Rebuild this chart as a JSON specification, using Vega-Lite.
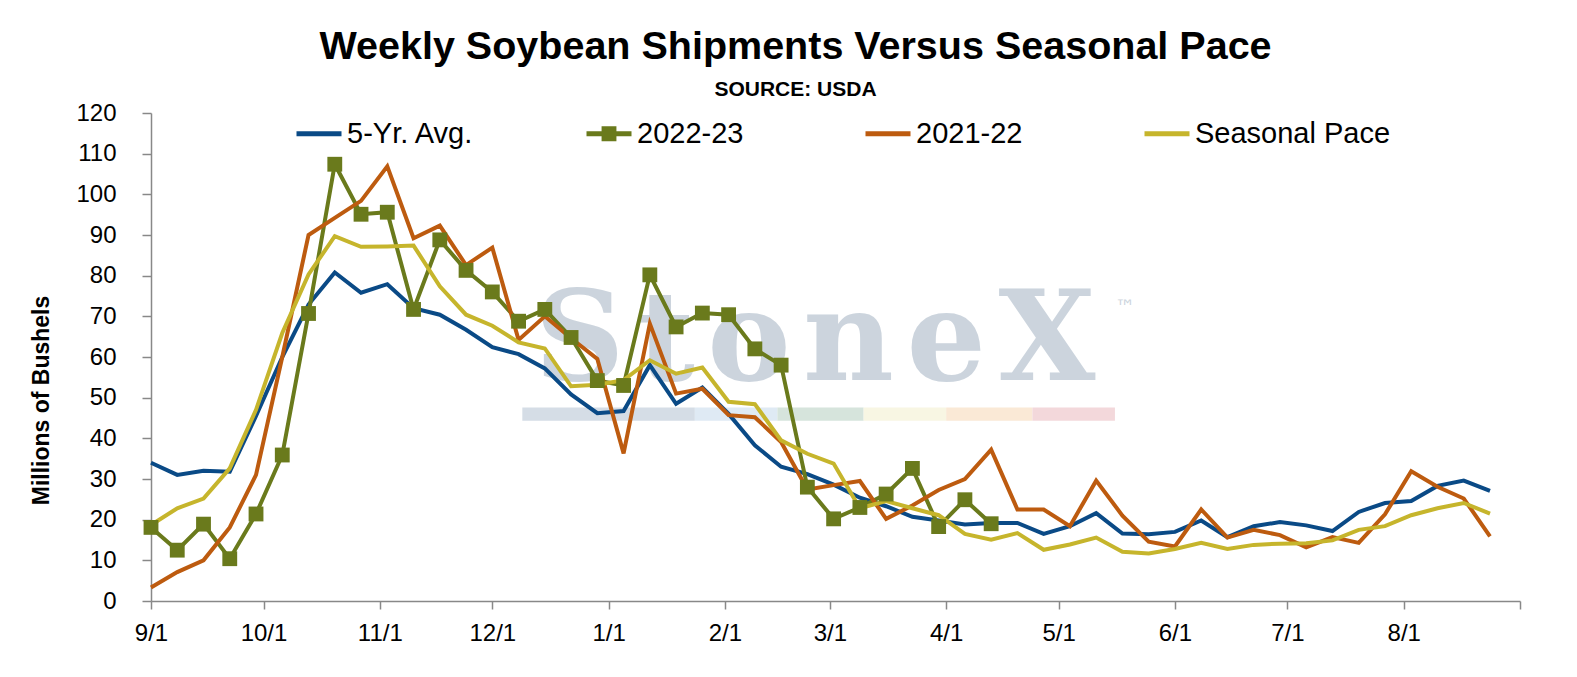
{
  "$schema": "https://vega.github.io/schema/vega-lite/v6.json",
  "width": 1369,
  "height": 488,
  "autosize": {"type": "none"},
  "padding": {"left": 151, "top": 113, "right": 57, "bottom": 76},
  "background": "white",
  "config": {"view": {"stroke": null}, "font": "Liberation Sans"},
  "title": {
    "text": "Weekly Soybean Shipments Versus Seasonal Pace",
    "subtitle": "SOURCE: USDA",
    "anchor": "middle",
    "dx": -40,
    "offset": 0,
    "font": "Liberation Sans",
    "fontSize": 39.5,
    "fontWeight": "bold",
    "color": "#000000",
    "subtitleFont": "Liberation Sans",
    "subtitleFontSize": 21,
    "subtitleFontWeight": "bold",
    "subtitleColor": "#000000",
    "subtitlePadding": 12
  },
  "data": {
    "values": [
      {"week": "2022-09-01", "avg": 34, "y2223": 18.1, "y2122": 3.3, "pace": 18.7},
      {"week": "2022-09-08", "avg": 31, "y2223": 12.5, "y2122": 7.1, "pace": 22.8},
      {"week": "2022-09-15", "avg": 32, "y2223": 18.9, "y2122": 10, "pace": 25.2},
      {"week": "2022-09-22", "avg": 31.8, "y2223": 10.4, "y2122": 18.1, "pace": 32.6},
      {"week": "2022-09-29", "avg": 45.5, "y2223": 21.4, "y2122": 31, "pace": 47},
      {"week": "2022-10-06", "avg": 60, "y2223": 35.9, "y2122": 60, "pace": 65.9},
      {"week": "2022-10-13", "avg": 72.9, "y2223": 70.7, "y2122": 90, "pace": 80.3},
      {"week": "2022-10-20", "avg": 80.8, "y2223": 107.4, "y2122": 94.2, "pace": 89.7},
      {"week": "2022-10-27", "avg": 75.8, "y2223": 95.1, "y2122": 98.4, "pace": 87.1},
      {"week": "2022-11-03", "avg": 77.9, "y2223": 95.6, "y2122": 106.9, "pace": 87.2},
      {"week": "2022-11-10", "avg": 72, "y2223": 71.7, "y2122": 89.2, "pace": 87.4},
      {"week": "2022-11-17", "avg": 70.4, "y2223": 88.8, "y2122": 92.3, "pace": 77.4},
      {"week": "2022-11-24", "avg": 66.7, "y2223": 81.3, "y2122": 82.6, "pace": 70.4},
      {"week": "2022-12-01", "avg": 62.4, "y2223": 76, "y2122": 86.9, "pace": 67.7},
      {"week": "2022-12-08", "avg": 60.7, "y2223": 68.8, "y2122": 64.2, "pace": 63.6},
      {"week": "2022-12-15", "avg": 57.2, "y2223": 71.7, "y2122": 70, "pace": 62.1},
      {"week": "2022-12-22", "avg": 50.8, "y2223": 64.8, "y2122": 64.6, "pace": 52.8},
      {"week": "2022-12-29", "avg": 46.2, "y2223": 54.2, "y2122": 59.5, "pace": 53.2},
      {"week": "2023-01-05", "avg": 46.7, "y2223": 53, "y2122": 36.3, "pace": 54.3},
      {"week": "2023-01-12", "avg": 58, "y2223": 80.2, "y2122": 68.2, "pace": 59.2},
      {"week": "2023-01-19", "avg": 48.5, "y2223": 67.4, "y2122": 51, "pace": 55.9},
      {"week": "2023-01-26", "avg": 52.5, "y2223": 70.8, "y2122": 52.2, "pace": 57.4},
      {"week": "2023-02-02", "avg": 46, "y2223": 70.4, "y2122": 45.7, "pace": 49},
      {"week": "2023-02-09", "avg": 38.3, "y2223": 62, "y2122": 45.2, "pace": 48.4},
      {"week": "2023-02-16", "avg": 33, "y2223": 58, "y2122": 39.1, "pace": 39.5},
      {"week": "2023-02-23", "avg": 31.2, "y2223": 28, "y2122": 27.4, "pace": 36.2},
      {"week": "2023-03-02", "avg": 28.6, "y2223": 20.2, "y2122": 28.5, "pace": 33.8},
      {"week": "2023-03-09", "avg": 25.4, "y2223": 23, "y2122": 29.5, "pace": 22.8},
      {"week": "2023-03-16", "avg": 23.3, "y2223": 26.3, "y2122": 20.2, "pace": 24.6},
      {"week": "2023-03-23", "avg": 20.7, "y2223": 32.6, "y2122": 23.5, "pace": 22.8},
      {"week": "2023-03-30", "avg": 19.8, "y2223": 18.3, "y2122": 27.3, "pace": 21.1},
      {"week": "2023-04-06", "avg": 18.8, "y2223": 24.9, "y2122": 30, "pace": 16.5},
      {"week": "2023-04-13", "avg": 19.2, "y2223": 19, "y2122": 37.2, "pace": 15.1},
      {"week": "2023-04-20", "avg": 19.2, "y2223": null, "y2122": 22.5, "pace": 16.7},
      {"week": "2023-04-27", "avg": 16.5, "y2223": null, "y2122": 22.5, "pace": 12.6},
      {"week": "2023-05-04", "avg": 18.4, "y2223": null, "y2122": 18.4, "pace": 13.9},
      {"week": "2023-05-11", "avg": 21.6, "y2223": null, "y2122": 29.6, "pace": 15.6},
      {"week": "2023-05-18", "avg": 16.6, "y2223": null, "y2122": 21, "pace": 12.1},
      {"week": "2023-05-25", "avg": 16.4, "y2223": null, "y2122": 14.6, "pace": 11.7},
      {"week": "2023-06-01", "avg": 17, "y2223": null, "y2122": 13.4, "pace": 12.8},
      {"week": "2023-06-08", "avg": 19.8, "y2223": null, "y2122": 22.5, "pace": 14.3},
      {"week": "2023-06-15", "avg": 15.7, "y2223": null, "y2122": 15.6, "pace": 12.8},
      {"week": "2023-06-22", "avg": 18.4, "y2223": null, "y2122": 17.5, "pace": 13.8},
      {"week": "2023-06-29", "avg": 19.4, "y2223": null, "y2122": 16.2, "pace": 14.1},
      {"week": "2023-07-06", "avg": 18.6, "y2223": null, "y2122": 13.2, "pace": 14.2},
      {"week": "2023-07-13", "avg": 17.2, "y2223": null, "y2122": 15.7, "pace": 14.9},
      {"week": "2023-07-20", "avg": 21.9, "y2223": null, "y2122": 14.3, "pace": 17.5},
      {"week": "2023-07-27", "avg": 24.1, "y2223": null, "y2122": 21.3, "pace": 18.4},
      {"week": "2023-08-03", "avg": 24.6, "y2223": null, "y2122": 31.9, "pace": 21.1},
      {"week": "2023-08-10", "avg": 28.3, "y2223": null, "y2122": 28.1, "pace": 22.8},
      {"week": "2023-08-17", "avg": 29.6, "y2223": null, "y2122": 25.2, "pace": 24.1},
      {"week": "2023-08-24", "avg": 27.1, "y2223": null, "y2122": 15.9, "pace": 21.5}
    ]
  },
  "layer": [
    {
      "data": {"values": [{}]},
      "mark": {"type": "rect", "color": "#d5dde6"},
      "encoding": {
        "x": {"datum": 1670544000000, "type": "temporal"},
        "x2": {"datum": 1674518400000},
        "y": {"datum": 47.6, "type": "quantitative"},
        "y2": {"datum": 44.3}
      }
    },
    {
      "data": {"values": [{}]},
      "mark": {"type": "rect", "color": "#dfeaf4"},
      "encoding": {
        "x": {"datum": 1674518400000, "type": "temporal"},
        "x2": {"datum": 1676419200000},
        "y": {"datum": 47.6, "type": "quantitative"},
        "y2": {"datum": 44.3}
      }
    },
    {
      "data": {"values": [{}]},
      "mark": {"type": "rect", "color": "#d6e4dc"},
      "encoding": {
        "x": {"datum": 1676419200000, "type": "temporal"},
        "x2": {"datum": 1678406400000},
        "y": {"datum": 47.6, "type": "quantitative"},
        "y2": {"datum": 44.3}
      }
    },
    {
      "data": {"values": [{}]},
      "mark": {"type": "rect", "color": "#f8f6e3"},
      "encoding": {
        "x": {"datum": 1678406400000, "type": "temporal"},
        "x2": {"datum": 1680307200000},
        "y": {"datum": 47.6, "type": "quantitative"},
        "y2": {"datum": 44.3}
      }
    },
    {
      "data": {"values": [{}]},
      "mark": {"type": "rect", "color": "#fae9d6"},
      "encoding": {
        "x": {"datum": 1680307200000, "type": "temporal"},
        "x2": {"datum": 1682294400000},
        "y": {"datum": 47.6, "type": "quantitative"},
        "y2": {"datum": 44.3}
      }
    },
    {
      "data": {"values": [{}]},
      "mark": {"type": "rect", "color": "#f3d8db"},
      "encoding": {
        "x": {"datum": 1682294400000, "type": "temporal"},
        "x2": {"datum": 1684195200000},
        "y": {"datum": 47.6, "type": "quantitative"},
        "y2": {"datum": 44.3}
      }
    },
    {
      "data": {"values": [{}]},
      "mark": {"type": "text", "text": "S\u200at\u200ao\u200an\u200ae\u200aX", "font": "DejaVu Serif", "fontWeight": "bold", "fontSize": 125, "color": "#9aabbd", "opacity": 0.5, "align": "center", "baseline": "alphabetic"},
      "encoding": {
        "x": {"datum": 1677283200000, "type": "temporal"},
        "y": {"datum": 54.3, "type": "quantitative"}
      }
    },
    {
      "data": {"values": [{}]},
      "mark": {"type": "text", "text": "™", "font": "DejaVu Sans", "fontSize": 20, "color": "#9aabbd", "opacity": 0.5, "align": "left", "baseline": "alphabetic"},
      "encoding": {
        "x": {"datum": 1684195200000, "type": "temporal"},
        "y": {"datum": 70.5, "type": "quantitative"}
      }
    },
    {
      "transform": [{"fold": ["avg", "y2223", "y2122", "pace"], "as": ["key", "value"]}],
      "mark": {"type": "line", "strokeWidth": 4},
      "encoding": {
        "x": {
          "field": "week",
          "type": "temporal",
          "scale": {"type": "utc", "domain": [1661990400000, 1693526400000]},
          "axis": {
            "title": null,
            "grid": false,
            "values": [1661990400000, 1664582400000, 1667260800000, 1669852800000, 1672531200000, 1675209600000, 1677628800000, 1680307200000, 1682899200000, 1685577600000, 1688169600000, 1690848000000, 1693526400000],
            "labelExpr": "datum.value >= 1693526400000 ? '' : utcFormat(datum.value, '%-m/%-d')",
            "labelFont": "Liberation Sans",
            "labelFontSize": 24,
            "labelColor": "#000000",
            "labelPadding": 12,
            "labelOverlap": false,
            "labelFlush": false,
            "tickSize": 8,
            "tickColor": "#888888",
            "tickWidth": 1.5,
            "domainColor": "#888888",
            "domainWidth": 1.5
          }
        },
        "y": {
          "field": "value",
          "type": "quantitative",
          "scale": {"domain": [0, 120], "nice": false},
          "axis": {
            "values": [0, 10, 20, 30, 40, 50, 60, 70, 80, 90, 100, 110, 120],
            "title": "Millions of Bushels",
            "titleFont": "Liberation Sans",
            "titleFontSize": 23,
            "titleFontWeight": "bold",
            "titleColor": "#000000",
            "titleAngle": -90,
            "titleX": -110,
            "titleY": 287,
            "titleAlign": "center",
            "titleBaseline": "middle",
            "labelFont": "Liberation Sans",
            "labelFontSize": 24,
            "labelColor": "#000000",
            "labelPadding": 26,
            "tickSize": 9,
            "tickColor": "#888888",
            "tickWidth": 1.5,
            "domainColor": "#888888",
            "domainWidth": 1.5,
            "gridColor": "#888888",
            "gridWidth": 1.5
          }
        },
        "color": {
          "field": "key",
          "type": "nominal",
          "scale": {"domain": ["avg", "y2223", "y2122", "pace"], "range": ["#0A4A86", "#6A7A1C", "#BD5B0F", "#C6B52C"]},
          "legend": {
            "orient": "none",
            "legendX": 153.5,
            "legendY": 6,
            "direction": "horizontal",
            "title": null,
            "padding": 0,
            "labelExpr": "datum.label == 'avg' ? '5-Yr. Avg.' : datum.label == 'y2223' ? '2022-23' : datum.label == 'y2122' ? '2021-22' : 'Seasonal Pace'",
            "labelFont": "Liberation Sans",
            "labelFontSize": 29,
            "labelColor": "#000000",
            "labelLimit": 500,
            "labelOffset": 13.5,
            "symbolType": "stroke",
            "symbolSize": 2025,
            "symbolStrokeWidth": 5,
            "columnPadding": 112,
            "encode": {
              "symbols": {
                "update": {
                  "shape": {"signal": "datum.value === 'y2223' ? 'M-1,-0.11H-0.33V-0.33H0.33V-0.11H1V0.11H0.33V0.33H-0.33V0.11H-1Z' : 'stroke'"},
                  "fill": {"signal": "datum.value === 'y2223' ? '#6A7A1C' : 'transparent'"},
                  "strokeWidth": {"signal": "datum.value === 'y2223' ? 0 : 5"}
                }
              }
            }
          }
        }
      }
    },
    {
      "transform": [{"filter": "isValid(datum.y2223)"}],
      "mark": {"type": "point", "shape": "square", "filled": true, "size": 220, "opacity": 1, "color": "#6A7A1C"},
      "encoding": {
        "x": {"field": "week", "type": "temporal"},
        "y": {"field": "y2223", "type": "quantitative"}
      }
    }
  ]
}
